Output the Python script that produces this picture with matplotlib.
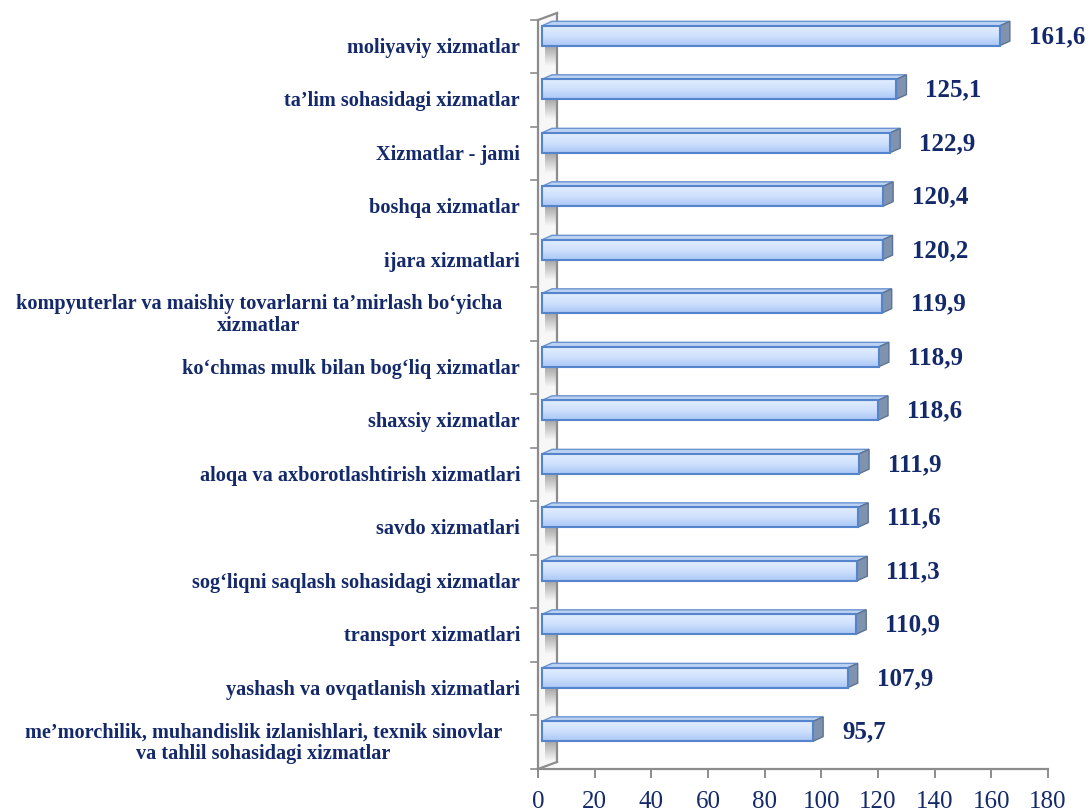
import numpy as np
import matplotlib.pyplot as plt
from matplotlib.patches import Polygon
from matplotlib.colors import LinearSegmentedColormap

# data, bottom to top
categories = [
    "me’morchilik, muhandislik izlanishlari, texnik sinovlar\nva tahlil sohasidagi xizmatlar",
    "yashash va ovqatlanish xizmatlari",
    "transport xizmatlari",
    "sog‘liqni saqlash sohasidagi xizmatlar",
    "savdo xizmatlari",
    "aloqa va axborotlashtirish xizmatlari",
    "shaxsiy xizmatlar",
    "ko‘chmas mulk bilan bog‘liq xizmatlar",
    "kompyuterlar va maishiy tovarlarni ta’mirlash bo‘yicha\nxizmatlar",
    "ijara xizmatlari",
    "boshqa xizmatlar",
    "Xizmatlar - jami",
    "ta’lim sohasidagi xizmatlar",
    "moliyaviy xizmatlar",
]
values = [95.7, 107.9, 110.9, 111.3, 111.6, 111.9, 118.6, 118.9, 119.9, 120.2, 120.4, 122.9, 125.1, 161.6]
xticks = [0, 20, 40, 60, 80, 100, 120, 140, 160, 180]

navy = '#14296a'
grey = '#8c8c8c'
serif = ['Liberation Serif', 'DejaVu Serif']

W, H = 1091, 812
fig = plt.figure(figsize=(W / 100, H / 100), dpi=100)
ax = fig.add_axes([538 / W, (H - 770) / H, 510 / W, 756 / H])
ax.set_xlim(0, 180)
ax.set_ylim(-0.5, 13.63)
ax.axis('off')

# pixel -> data helpers
px_x = 180 / 510
px_y = 14.13 / 756

ypos = np.arange(len(values))
shift = 4 * px_x
bar_off = 11 * px_y
bh = 0.37
dx, dy = 10 * px_x, 4.5 * px_y

# back wall
wx = 19 * px_x
wy = 7 * px_y
wall = Polygon([(0, -0.5), (wx, -0.5 + wy), (wx, 13.63), (0, 13.63 - wy)],
               closed=True, facecolor='#f7f7f7', edgecolor='none', clip_on=False, zorder=1)
ax.add_patch(wall)
ax.plot([0, 0], [-0.5, 13.63 - wy], color=grey, lw=1.6, clip_on=False, zorder=3)
ax.plot([wx, wx], [-0.5 + wy, 13.63], color=grey, lw=1.6, clip_on=False, zorder=3)
ax.plot([0, wx], [13.63 - wy, 13.63], color=grey, lw=1.6, clip_on=False, zorder=3)
ax.plot([0, wx], [-0.5, -0.5 + wy], color=grey, lw=1.6, clip_on=False, zorder=3)
for b in np.arange(-0.5, 14, 1.0):
    ax.plot([-7 * px_x, 0], [b, b], color=grey, lw=1.2, clip_on=False)

# bottom axis
ax.plot([0, 180], [-0.5, -0.5], color=grey, lw=1.6, clip_on=False, zorder=3)
for t in xticks:
    ax.plot([t, t], [-0.5, -0.5 - 8 * px_y], color=grey, lw=1.4, clip_on=False)
    ax.text(t, -0.5 - 32 * px_y, str(t), ha='center', va='center',
            fontsize=18, color=navy, family=serif)

# bars
cmap = LinearSegmentedColormap.from_list('face', ['#a9c7f6', '#cfe0fd', '#e2edfe'])
shade = LinearSegmentedColormap.from_list('shade', [(0.55, 0.55, 0.55, 0.0), (0.55, 0.55, 0.55, 0.75)])
grad = np.linspace(0, 1, 64).reshape(-1, 1)
bars = ax.barh(ypos + bar_off, values, height=bh, left=shift,
               color='none', edgecolor='#5485cc', linewidth=1.5, zorder=5)
for bar, v in zip(bars, values):
    x0, y0 = bar.get_x(), bar.get_y()
    x1, y1 = x0 + bar.get_width(), y0 + bar.get_height()
    # soft shadow on the wall below the bar
    ax.imshow(grad, cmap=shade, aspect='auto', origin='lower', interpolation='bilinear',
              extent=(7 * px_x, wx - 1 * px_x, y0 - 20 * px_y, y0), zorder=2)
    im = ax.imshow(grad, cmap=cmap, aspect='auto', extent=(x0, x1, y0, y1),
                   origin='lower', zorder=4)
    im.set_clip_path(bar)
    top = Polygon([(x0, y1), (x0 + dx, y1 + dy), (x1 + dx, y1 + dy), (x1, y1)],
                  closed=True, facecolor='#bcd2f2', edgecolor='#6a93cf', lw=1.0, zorder=4)
    side = Polygon([(x1, y0), (x1 + dx, y0 + dy), (x1 + dx, y1 + dy), (x1, y1)],
                   closed=True, facecolor='#7f93ae', edgecolor='#5c7396', lw=1.0, zorder=4)
    ax.add_patch(top)
    ax.add_patch(side)
    ax.text(v + 33 * px_x, bar.get_y() + bh / 2, f"{v:.1f}".replace('.', ','),
            ha='left', va='center', fontsize=18, fontweight='bold', color=navy,
            family=serif, clip_on=False)
ax.set_xlim(0, 180)
ax.set_ylim(-0.5, 13.63)

# category labels (wrapped ones sit a bit further left, as in the source)
for y, lab in zip(ypos, categories):
    off = 36 if '\n' in lab else 18
    ax.text(-off * px_x, y, lab, ha='right', va='center', multialignment='center',
            fontsize=14.6, fontweight='bold', color=navy, family=serif,
            linespacing=1.1, clip_on=False)

fig.savefig('out.png', dpi=100)
